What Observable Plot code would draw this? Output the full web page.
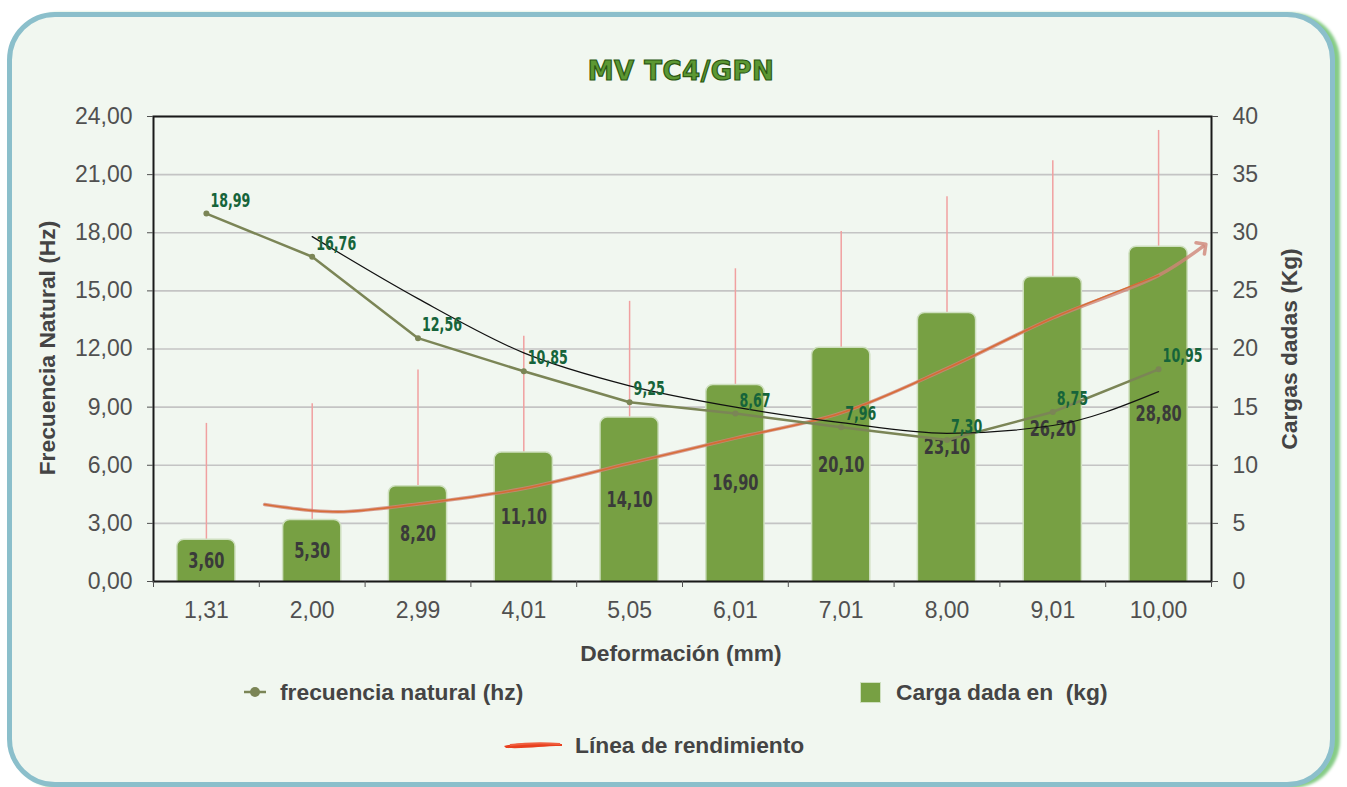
<!DOCTYPE html>
<html><head><meta charset="utf-8">
<script src="https://cdn.jsdelivr.net/npm/d3@7"></script>
<script src="https://cdn.jsdelivr.net/npm/@observablehq/plot@0.6"></script>
<style>
html,body{margin:0;padding:0;background:#fff;}
body{width:1347px;height:787px;position:relative;overflow:hidden;font-family:"Liberation Sans",Arial,Helvetica,sans-serif;}
#frame{position:absolute;left:7px;top:12px;width:1318px;height:765px;border:5px solid #8bbfcb;border-radius:48px;background:#f1f7f0;box-shadow:5px 1px 3px #86cc86;}
#chart{position:absolute;left:0;top:0;}
.t{position:absolute;white-space:nowrap;line-height:1;color:#444;font-weight:bold;font-size:22.8px;}
#title{left:681px;top:58px;transform:translateX(-50%);font-family:"DejaVu Sans",sans-serif;font-size:26px;font-weight:900;color:#5c9833;-webkit-text-stroke:1.2px #2b5812;letter-spacing:0.5px;}
.rot{transform:translate(-50%,-50%) rotate(-90deg);}
</style></head>
<body>
<div id="frame"></div>
<div id="chart"></div>
<div class="t" id="title">MV TC4/GPN</div>
<div class="t rot" style="left:47px;top:348px;">Frecuencia Natural (Hz)</div>
<div class="t rot" style="left:1289px;top:349px;">Cargas dadas (Kg)</div>
<div class="t" style="left:681px;top:642px;transform:translateX(-50%);">Deformación (mm)</div>
<svg style="position:absolute;left:243px;top:686px;" width="24" height="12"><line x1="1" y1="6" x2="23" y2="6" stroke="#7b8556" stroke-width="2.5"/><circle cx="12" cy="6" r="5" fill="#7b8556"/></svg>
<div class="t" style="left:280px;top:681px;">frecuencia natural (hz)</div>
<div style="position:absolute;left:860px;top:682px;width:19px;height:19px;background:#77a043;border:1px solid #cfe0c0;"></div>
<div class="t" style="left:896px;top:681px;">Carga dada en&nbsp; (kg)</div>
<svg style="position:absolute;left:502px;top:737px;" width="62" height="16"><path d="M2,9 C14,6 30,5 60,7 L60,9 C40,9 25,12 4,11 Z" fill="#e8401f"/><path d="M8,8 C25,6 45,6 58,7" stroke="#f06040" stroke-width="2" fill="none"/></svg>
<div class="t" style="left:575px;top:734px;">Línea de rendimiento</div>
<script>
const categories = ["1,31","2,00","2,99","4,01","5,05","6,01","7,01","8,00","9,01","10,00"];
const carga = [3.60,5.30,8.20,11.10,14.10,16.90,20.10,23.10,26.20,28.80];
const cargaTop = [13.6,15.3,18.2,21.1,24.1,26.9,30.1,33.1,36.2,38.8];
const frecuencia = [18.99,16.76,12.56,10.85,9.25,8.67,7.96,7.30,8.75,10.95];
const tendencia = [null,17.8,14.6,11.8,10.1,9.0,8.2,7.65,8.05,9.8];
const rendX = [0.55,1,1.3,2,3,4,5,6,7,8,9,9.42];
const rendY = [3.97,3.66,3.6,4.0,4.8,6.1,7.4,8.7,11.0,13.6,15.8,17.3];
const leftTicks = [0,3,6,9,12,15,18,21,24];
const rightTicks = [0,5,10,15,20,25,30,35,40];

const K = 24/40; // kg -> Hz axis
const fmt = v => v.toFixed(2).replace(".", ",");
const rows = categories.map((c,i)=>({i, c, kg:carga[i], top:cargaTop[i], f:frecuencia[i], t:tendencia[i]}));
const rend = rendX.map((x,j)=>({x, y:rendY[j]}));
const cond = "'DejaVu Sans Condensed','Liberation Sans Narrow','Roboto Condensed','Arial Narrow',sans-serif";
const condB = "'DejaVu Sans Condensed','Liberation Sans Narrow','Roboto Condensed','Arial Narrow',DejaVu Sans";

const plot = Plot.plot({
  width:1347, height:787,
  marginLeft:153, marginRight:136, marginTop:116, marginBottom:206,
  style:{background:"transparent", fontFamily:"'Liberation Sans',Arial,sans-serif", fontSize:"23px", color:"#505050"},
  x:{domain:[-0.5,9.5], axis:null},
  y:{domain:[0,24], axis:null},
  marks:[
    Plot.gridY(leftTicks, {stroke:"#c4c4c4", strokeOpacity:1, strokeWidth:1.6}),
    Plot.ruleX(rows, {x:"i", y1:d=>d.kg*K, y2:d=>d.top*K, stroke:"#f0a0a0", strokeWidth:1.5}),
    Plot.rect(rows, {x1:d=>d.i-0.275, x2:d=>d.i+0.275, y1:-1, y2:d=>d.kg*K, fill:"#77a043", stroke:"#cfe0c0", strokeWidth:1.5, rx:7, clip:true}),
    Plot.text(rows, {x:"i", y:d=>d.kg*K/2, text:d=>fmt(d.kg), fill:"#3a3a3a", fontSize:22, fontWeight:"bold", fontFamily:cond}),
    Plot.line(rend, {x:"x", y:"y", stroke:"#d08478", strokeWidth:3.5, strokeOpacity:0.8, curve:"catmull-rom", markerEnd:"arrow"}),
    Plot.line(rend.slice(0,-1), {x:"x", y:"y", stroke:"#d8672e", strokeWidth:1.6, strokeOpacity:0.9, curve:"catmull-rom"}),
    Plot.line(rows, {x:"i", y:"f", stroke:"#7b8556", strokeWidth:2.5}),
    Plot.dot(rows, {x:"i", y:"f", r:3, fill:"#7b8556"}),
    Plot.line(rows.filter(d=>d.t!=null), {x:"i", y:"t", stroke:"#111", strokeWidth:1.2, curve:"monotone-x"}),
    Plot.text(rows, {x:"i", y:"f", text:d=>fmt(d.f), dx:4, dy:-13, textAnchor:"start", fill:"#16643a", fontSize:19, fontWeight:"bold", fontFamily:condB}),
    Plot.frame({stroke:"#1a1a1a", strokeWidth:2}),
    Plot.axisY(leftTicks, {anchor:"left", tickFormat:fmt, tickSize:6, tickPadding:15, label:null}),
    Plot.axisY(rightTicks.map(t=>t*K), {anchor:"right", tickFormat:d=>String(Math.round(d/K)), tickSize:6, tickPadding:15, label:null}),
    Plot.axisX(d3.range(10), {anchor:"bottom", tickFormat:i=>categories[i], tickSize:0, tickPadding:20, label:null}),
    Plot.axisX(d3.range(11).map(i=>i-0.5), {anchor:"bottom", tickFormat:()=>"", tickSize:6, label:null})
  ]
});
document.getElementById("chart").appendChild(plot);
// condense the value labels horizontally (no condensed font installed)
d3.select(plot).selectAll("g[font-family] text").each(function(){
  const g = this.parentNode.getAttribute("font-family") || "";
  if (g.includes("Condensed")) {
    const w = this.getComputedTextLength();
    this.setAttribute("textLength", (w*0.74).toFixed(1));
    this.setAttribute("lengthAdjust", "spacingAndGlyphs");
  }
});
</script>
</body></html>
